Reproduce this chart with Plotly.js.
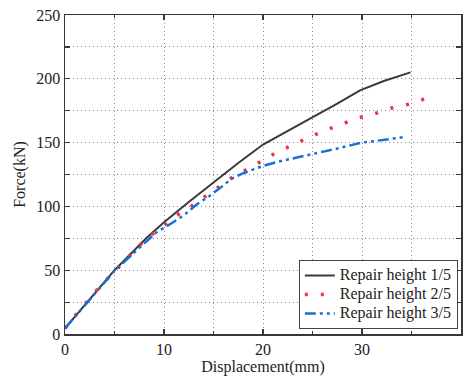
<!DOCTYPE html>
<html>
<head>
<meta charset="utf-8">
<script src="https://cdn.plot.ly/plotly-3.0.1.min.js"></script>
<style>html,body{margin:0;padding:0;background:#fff;}#chart{width:466px;height:376px;}</style>
</head>
<body>
<div id="chart"></div>
<script>
const seriesNames = ["Repair height 1/5", "Repair height 2/5", "Repair height 3/5"];

const disp1 = [0, 2.5, 5, 8.2, 10, 12.5, 15, 17.5, 20, 22.7, 25, 27.5, 29.8, 32.2, 34.9];
const force1 = [4.4, 27, 50, 75, 87.5, 103.5, 119, 134, 148.5, 160, 170, 180.5, 191, 198.3, 205];

const disp2 = [0, 1.2, 3.5, 5.9, 8.25, 10, 11.1, 12.6, 14.1, 15.5, 16.9, 18.5, 20, 21.5, 23.1, 24.7, 26.3, 28, 29.6, 31.3, 33, 34.7, 36.3];
const force2 = [4.4, 16, 37, 56, 75, 85, 92, 99.3, 107.6, 115.4, 122.8, 129.5, 136, 143, 148.4, 154.4, 159.6, 164.8, 169.3, 172.7, 177.1, 180, 184.2];

const disp3 = [0, 2.5, 5, 8, 9.3, 10.4, 12, 13.3, 14.6, 16.2, 16.7, 18, 20, 21.5, 22.7, 25, 27.4, 30, 30.8, 34.3];
const force3 = [4.4, 27, 49.5, 71, 80, 85, 93, 101.5, 108.2, 117.6, 121.2, 126, 131.7, 135, 137, 141.1, 145.2, 150, 150.7, 154.4];

const xTicks = [0, 10, 20, 30, 40];
const yTicks = [0, 50, 100, 150, 200, 250];

const FONT = "'Times New Roman', 'Liberation Serif', serif";
const legendLabel = s => '<span style="font-size:16px">' + s + '</span>';

const traces = [
  {x: disp1, y: force1, name: legendLabel(seriesNames[0]), mode: "lines", line: {color: "#3a3a3a", width: 2}},
  {x: disp2, y: force2, name: legendLabel(seriesNames[1]), mode: "lines", line: {color: "#e8363c", width: 3.5, dash: "3px,13px"}},
  {x: disp3, y: force3, name: legendLabel(seriesNames[2]), mode: "lines", line: {color: "#1a6fd8", width: 2.5, dash: "11px,4px,3px,4px,3px,4px"}}
];

const GRID = "#8a8a8a";
const axisCommon = {
  showline: true, mirror: "ticks", linecolor: "#383838", linewidth: 1.5,
  ticks: "inside", ticklen: 5, tickcolor: "#383838", tickwidth: 1.2,
  showgrid: true, gridcolor: GRID, griddash: "1px,3px", gridwidth: 1,
  zeroline: false,
  tickfont: {family: FONT, size: 16, color: "#222"}
};

const layout = {
  width: 466, height: 376,
  margin: {l: 65, r: 5, t: 15, b: 42},
  paper_bgcolor: "#fff", plot_bgcolor: "#fff",
  font: {family: FONT, color: "#222"},
  showlegend: true,
  legend: {
    x: 0.992, y: 0.016, xanchor: "right", yanchor: "bottom",
    bgcolor: "#fff", bordercolor: "#444", borderwidth: 1,
    font: {family: FONT, size: 11, color: "#222"},
    tracegroupgap: 0
  },
  xaxis: Object.assign({}, axisCommon, {
    range: [0, 40], tickvals: xTicks, ticktext: xTicks.map(String),
    minor: {dtick: 5, tick0: 0, ticks: "inside", ticklen: 3, tickcolor: "#383838", showgrid: true, gridcolor: GRID, griddash: "1px,3px"},
    title: {text: "Displacement(mm)", font: {family: FONT, size: 16, color: "#222"}, standoff: 4}
  }),
  yaxis: Object.assign({}, axisCommon, {
    range: [0, 250], tickvals: yTicks, ticktext: yTicks.map(String),
    minor: {dtick: 25, tick0: 0, ticks: "inside", ticklen: 5, tickcolor: "#383838", showgrid: true, gridcolor: GRID, griddash: "1px,3px"},
    title: {text: "Force(kN)", font: {family: FONT, size: 16, color: "#222"}, standoff: 6}
  })
};

Plotly.newPlot("chart", traces, layout, {displayModeBar: false, staticPlot: true});
</script>
</body>
</html>
